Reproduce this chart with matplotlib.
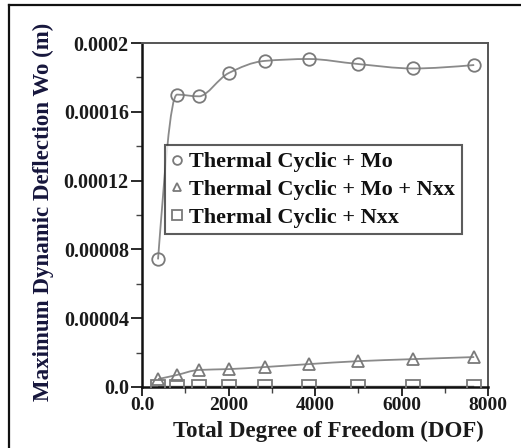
import matplotlib
matplotlib.use("Agg")
import matplotlib.pyplot as plt
import numpy as np
from matplotlib.path import Path
from matplotlib.patches import PathPatch
from matplotlib.lines import Line2D

plt.rcParams['font.family'] = ['Liberation Serif', 'DejaVu Serif']
plt.rcParams['font.weight'] = 'bold'
plt.rcParams['axes.labelweight'] = 'bold'

# data
dof = [370, 810, 1320, 2010, 2840, 3860, 4990, 6270, 7680]
w_mo = [0.0000742, 0.0001700, 0.0001690, 0.0001826, 0.0001896, 0.0001907, 0.0001878, 0.0001852, 0.0001872]
w_mo_nxx = [0.0000046, 0.0000070, 0.0000099, 0.0000104, 0.0000116, 0.0000133, 0.0000150, 0.0000162, 0.0000174]
w_nxx = [0.0000002, 0.0000002, 0.0000002, 0.0000002, 0.0000002, 0.0000002, 0.0000002, 0.0000002, 0.0000002]

labels = ["Thermal Cyclic + Mo", "Thermal Cyclic + Mo + Nxx", "Thermal Cyclic + Nxx"]
xticks = [0, 2000, 4000, 6000, 8000]
xtick_labels = ["0.0", "2000", "4000", "6000", "8000"]
yticks = [0, 0.00004, 0.00008, 0.00012, 0.00016, 0.0002]
ytick_labels = ["0.0", "0.00004", "0.00008", "0.00012", "0.00016", "0.0002"]

XMAX, YMAX = 8000, 0.0002


def smooth_path(xs, ys, sx, sy):
    # smoothed line as bezier segments: catmull-rom in x, monotone (pchip-like) in y
    x = np.asarray(xs) / sx
    y = np.asarray(ys) / sy
    n = len(x)
    tx = np.zeros(n)
    ty = np.zeros(n)
    dx = np.diff(x)
    dy = np.diff(y)
    for i in range(1, n - 1):
        tx[i] = (x[i + 1] - x[i - 1]) / 2
        a, b = dy[i - 1], dy[i]
        ty[i] = 0 if a * b <= 0 else 2 * a * b / (a + b)
    tx[0], tx[-1] = dx[0], dx[-1]
    ty[0] = 1.5 * dy[0] - ty[1] / 2
    ty[-1] = 1.5 * dy[-1] - ty[-2] / 2
    verts = [(x[0], y[0])]
    codes = [Path.MOVETO]
    for i in range(n - 1):
        verts += [(x[i] + tx[i] / 3, y[i] + ty[i] / 3),
                  (x[i + 1] - tx[i + 1] / 3, y[i + 1] - ty[i + 1] / 3),
                  (x[i + 1], y[i + 1])]
        codes += [Path.CURVE4] * 3
    v = np.array(verts)
    v[:, 0] *= sx
    v[:, 1] *= sy
    return Path(v, codes)


fig = plt.figure(figsize=(5.21, 4.48), dpi=100)
ax = fig.add_axes([0.2726, 0.1362, 0.6641, 0.7678])

line_col = '#8a8a8a'
mk_col = '#7a7a7a'
sx, sy = XMAX / 346.0, YMAX / 344.0
for ys in (w_mo, w_mo_nxx, w_nxx):
    ax.add_patch(PathPatch(smooth_path(dof, ys, sx, sy), fill=False,
                           edgecolor=line_col, lw=1.3, zorder=2))

ax.plot(dof, w_mo, ls='none', marker='o', ms=9, mfc='none', mec=mk_col, mew=1.3,
        label=labels[0], zorder=3)
ax.plot(dof, w_mo_nxx, ls='none', marker='^', ms=9, mfc='none', mec=mk_col, mew=1.3,
        label=labels[1], zorder=3)
ax.plot(dof, w_nxx, ls='none', marker='s', ms=10, mfc='none', mec=mk_col, mew=1.3,
        label=labels[2], zorder=3)

ax.set_xlim(0, XMAX)
ax.set_ylim(0, YMAX)
ax.set_xticks(xticks)
ax.set_xticklabels(xtick_labels)
ax.set_yticks(yticks)
ax.set_yticklabels(ytick_labels)
ax.set_xticks(np.arange(1000, 8000, 2000), minor=True)
ax.set_yticks(np.arange(0.00002, 0.0002, 0.00004), minor=True)
ax.tick_params(which='major', direction='out', length=8, width=1.3, labelsize=14.5,
               colors='#1a1a1a', pad=1.5)
ax.tick_params(which='minor', direction='out', length=4, width=1.0, colors='#444444')
ax.tick_params(axis='x', which='major', length=6.5, pad=1, labelsize=14)

for s in ('left', 'bottom'):
    ax.spines[s].set_color('#111111')
    ax.spines[s].set_linewidth(1.8)
for s in ('top', 'right'):
    ax.spines[s].set_color('#555555')
    ax.spines[s].set_linewidth(1.4)

ax.set_xlabel("Total Degree of Freedom (DOF)", fontsize=16.5, color='#1a1a1a')
ax.set_ylabel("Maximum Dynamic Deflection Wo (m)", fontsize=16.5, color='#16163c')
ax.xaxis.set_label_coords(0.54, -0.097)
ax.yaxis.set_label_coords(-0.255, 0.51)

leg = ax.legend(loc='upper left', bbox_to_anchor=(0.0665, 0.703), fontsize=16,
                frameon=True, fancybox=False, handlelength=0.5, handletextpad=0.3,
                borderpad=0.3, labelspacing=0.32, markerscale=0.7, borderaxespad=0)
leg.get_frame().set_edgecolor('#333333')
leg.get_frame().set_linewidth(1.5)
for t in leg.get_texts():
    t.set_color('#111111')

# outer frame (left and top edges only)
fig.add_artist(Line2D([9 / 521, 9 / 521], [1 - 5 / 448, 0], color='#111111', lw=1.6))
fig.add_artist(Line2D([9 / 521, 1], [1 - 5 / 448, 1 - 5 / 448], color='#111111', lw=1.6))

fig.savefig("out.png", dpi=100)
